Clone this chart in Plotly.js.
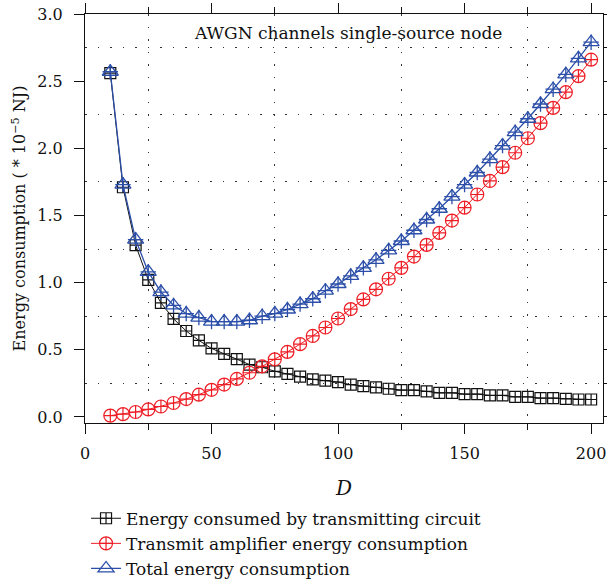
<!DOCTYPE html>
<html>
<head>
<meta charset="utf-8">
<script src="https://cdn.plot.ly/plotly-3.0.1.min.js"></script>
<style>html,body{margin:0;padding:0;background:#fff;}#chart{width:607px;height:588px;}</style>
</head>
<body>
<div id="chart"></div>
<script>
const D = [10,15,20,25,30,35,40,45,50,55,60,65,70,75,80,85,90,95,100,105,110,115,120,125,130,135,140,145,150,155,160,165,170,175,180,185,190,195,200];
const circuitEnergy = [2.56,1.71,1.28,1.02,0.85,0.73,0.64,0.57,0.51,0.47,0.43,0.39,0.37,0.34,0.32,0.30,0.28,0.27,0.26,0.24,0.23,0.22,0.21,0.20,0.20,0.19,0.18,0.18,0.17,0.17,0.16,0.16,0.15,0.15,0.14,0.14,0.135,0.13,0.13];
const amplifierEnergy = [0.010,0.021,0.037,0.056,0.078,0.104,0.133,0.166,0.202,0.241,0.283,0.329,0.377,0.429,0.484,0.542,0.603,0.666,0.733,0.803,0.875,0.950,1.029,1.110,1.194,1.281,1.370,1.462,1.558,1.656,1.757,1.860,1.967,2.075,2.187,2.301,2.418,2.537,2.66];
const totalEnergy = [2.57,1.73,1.32,1.08,0.93,0.83,0.77,0.74,0.71,0.71,0.71,0.72,0.75,0.77,0.80,0.84,0.88,0.94,0.99,1.05,1.11,1.17,1.24,1.31,1.39,1.47,1.55,1.64,1.73,1.82,1.92,2.02,2.12,2.22,2.33,2.44,2.55,2.67,2.79];
const seriesNames = ["Energy consumed by transmitting circuit","Transmit amplifier energy consumption","Total energy consumption"];
const chartTitle = "AWGN channels single-source node";

const FONT = "DejaVu Serif";
const BLACK = "#111111", RED = "#ee1c24", BLUE = "#2b4ea8";
const xr = [0, 204.7], yr = [-0.045, 3.0];

const traces = [
  {x: D, y: circuitEnergy, name: seriesNames[0], mode: "lines+markers", legendgroup: "a",
   line: {color: BLACK, width: 1}, marker: {symbol: "square-cross-open", size: 11, color: BLACK, line: {width: 1.2}}},
  {x: D, y: amplifierEnergy, name: seriesNames[1], mode: "lines+markers", legendgroup: "b",
   line: {color: RED, width: 1}, marker: {symbol: "circle-cross-open", size: 13, color: RED, line: {width: 1.2}}},
  {x: D, y: totalEnergy, name: seriesNames[2], mode: "lines+markers", legendgroup: "c",
   line: {color: BLUE, width: 1.3}, marker: {symbol: "triangle-up-open", size: 14, color: BLUE, line: {width: 1.3}}},
  {x: D, y: totalEnergy, name: seriesNames[2], mode: "markers", legendgroup: "c", showlegend: false, hoverinfo: "skip",
   marker: {symbol: "cross-thin-open", size: 11, color: BLUE, line: {width: 1.3, color: BLUE}}},
  {x: [0], y: [-1], xaxis: "x2", yaxis: "y2", mode: "markers", showlegend: false, hoverinfo: "skip", marker: {opacity: 0}}
];

const layout = {
  width: 607, height: 588,
  margin: {l: 85, r: 4, t: 14, b: 165, autoexpand: false},
  paper_bgcolor: "#fff", plot_bgcolor: "#fff",
  font: {family: FONT, size: 16, color: BLACK},
  showlegend: true,
  legend: {x: 0.002, xanchor: "left", y: -0.19, yanchor: "top", bgcolor: "rgba(0,0,0,0)",
           font: {family: FONT, size: 17, color: BLACK}, traceorder: "normal", tracegroupgap: 3.5},
  xaxis: {range: xr, showline: true, linecolor: BLACK, linewidth: 1, mirror: false, automargin: false,
          ticks: "outside", tick0: 0, dtick: 50, ticklen: 10, tickwidth: 1, tickcolor: BLACK,
          ticklabelstandoff: 6, ticklabeloverflow: "allow", tickfont: {family: FONT, size: 16, color: BLACK},
          showgrid: false, zeroline: false,
          minor: {dtick: 25, tick0: 0, ticks: "outside", ticklen: 6, tickwidth: 1, tickcolor: BLACK,
                  showgrid: true, gridcolor: "#333", gridwidth: 1, griddash: "1.5px,11px"},
          title: {text: "<i>D</i>", standoff: 18, font: {family: FONT, size: 20, color: BLACK}}},
  yaxis: {range: yr, showline: true, linecolor: BLACK, linewidth: 1, automargin: false,
          ticks: "outside", tick0: 0, dtick: 0.5, ticklen: 10, tickwidth: 1, tickcolor: BLACK,
          tickformat: ".1f", ticklabelstandoff: 8, tickfont: {family: FONT, size: 16, color: BLACK},
          showgrid: false, zeroline: false,
          minor: {dtick: 0.25, tick0: 0, ticks: "", showgrid: true, gridcolor: "#333", gridwidth: 1, griddash: "1.5px,11px"},
          title: {text: "Energy consumption ( * 10<sup>−5</sup> NJ)", standoff: 7, font: {family: FONT, size: 16, color: BLACK}}},
  xaxis2: {range: xr, overlaying: "x", side: "top", showline: true, linecolor: BLACK, linewidth: 1,
           ticks: "outside", tick0: 0, dtick: 50, ticklen: 10, tickwidth: 1, tickcolor: BLACK,
           showticklabels: false, showgrid: false, zeroline: false,
           minor: {dtick: 25, tick0: 0, ticks: "outside", ticklen: 6, tickwidth: 1, tickcolor: BLACK, showgrid: false}},
  yaxis2: {range: yr, overlaying: "y", side: "right", showline: true, linecolor: BLACK, linewidth: 1,
           ticks: "outside", tick0: 0, dtick: 0.25, ticklen: 4, tickwidth: 1, tickcolor: BLACK,
           showticklabels: false, showgrid: false, zeroline: false},
  annotations: [{text: chartTitle, xref: "paper", yref: "paper", x: 0.508, y: 0.954, xanchor: "center", yanchor: "middle",
                 showarrow: false, font: {family: FONT, size: 17, color: BLACK}}]
};

Plotly.newPlot("chart", traces, layout, {displayModeBar: false, staticPlot: true});
</script>
</body>
</html>
